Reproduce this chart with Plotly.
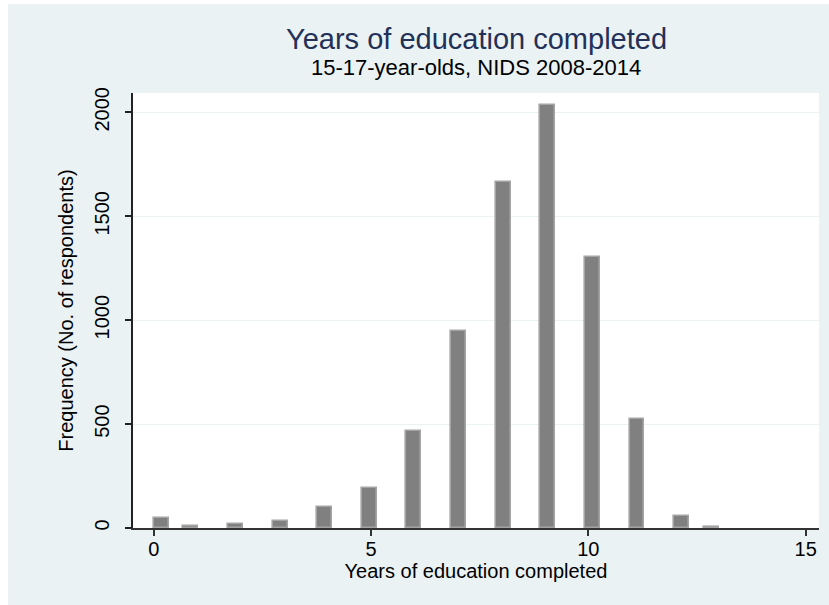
import plotly.graph_objects as go

# Years of schooling completed and respondent counts (15-17-year-olds, NIDS 2008-2014)
years = [0, 1, 2, 3, 4, 5, 6, 7, 8, 9, 10, 11, 12, 13]
counts = [49, 12, 17, 33, 100, 191, 467, 950, 1663, 2034, 1303, 524, 57, 7]

# Histogram binning: 38 equal bins over the observed range
n_bins = 38
lo, hi = min(years), max(years)
bin_w = (hi - lo) / n_bins


def bin_center(v):
    idx = min(int((v - lo) / bin_w + 1e-9), n_bins - 1)
    return lo + (idx + 0.5) * bin_w


centers = [bin_center(v) for v in years]

x_ticks = [0, 5, 10, 15]
y_ticks = [0, 500, 1000, 1500, 2000]

FONT = "Liberation Sans, Arial, Helvetica, sans-serif"
PANEL = "#EAF2F3"

# plot-area geometry in pixels (used to place text in paper coordinates)
W, H = 829, 605
ML, MR, MT, MB = 133, 10, 93, 77
PW, PH = W - ML - MR, H - MT - MB


def px_x(px):
    return (px - ML) / PW


def px_y(py):
    return (H - MB - py) / PH


fig = go.Figure()
fig.add_trace(
    go.Bar(
        x=centers,
        y=counts,
        width=bin_w,
        marker=dict(color="#808080", line=dict(color="#a4a4a4", width=1.6)),
        hoverinfo="x+y",
    )
)

fig.update_layout(
    width=W,
    height=H,
    autosize=False,
    margin=dict(l=ML, r=MR, t=MT, b=MB, pad=0),
    paper_bgcolor=PANEL,
    plot_bgcolor="white",
    showlegend=False,
    bargap=0,
    font=dict(family=FONT, color="black", size=20),
    xaxis=dict(
        range=[-0.476, 15.306],
        tickvals=x_ticks,
        ticks="outside",
        ticklen=6,
        tickwidth=1.5,
        tickcolor="#333",
        ticklabelstandoff=-4,
        showline=True,
        linecolor="#333",
        linewidth=1.5,
        showgrid=False,
        zeroline=False,
        tickfont=dict(size=20),
        title=dict(text="Years of education completed", font=dict(size=20), standoff=4),
    ),
    yaxis=dict(
        range=[0, 2093],
        tickvals=y_ticks,
        ticks="outside",
        ticklen=6,
        tickwidth=1.5,
        tickcolor="#222",
        ticklabelstandoff=8,
        showline=True,
        linecolor="#222",
        linewidth=1.5,
        showgrid=True,
        gridcolor=PANEL,
        gridwidth=1.2,
        zeroline=False,
        tickangle=-90,
        tickfont=dict(size=20),
        title=dict(text="Frequency (No. of respondents)", font=dict(size=20), standoff=12),
    ),
    annotations=[
        dict(
            text="Years of education completed",
            x=0.5, xref="paper", y=px_y(39), yref="paper",
            xanchor="center", yanchor="middle", showarrow=False,
            font=dict(family=FONT, size=29, color="#233058"),
        ),
        dict(
            text="15-17-year-olds, NIDS 2008-2014",
            x=0.5, xref="paper", y=px_y(68), yref="paper",
            xanchor="center", yanchor="middle", showarrow=False,
            font=dict(family=FONT, size=22, color="black"),
        ),
    ],
    shapes=[
        # thin white strips along the top and left edges of the page
        dict(type="rect", xref="paper", yref="paper",
             x0=px_x(0), x1=px_x(W), y0=px_y(4), y1=px_y(0),
             fillcolor="white", line=dict(width=0), layer="below"),
        dict(type="rect", xref="paper", yref="paper",
             x0=px_x(0), x1=px_x(8), y0=px_y(H), y1=px_y(0),
             fillcolor="white", line=dict(width=0), layer="below"),
    ],
)

fig.write_html("out.html")
